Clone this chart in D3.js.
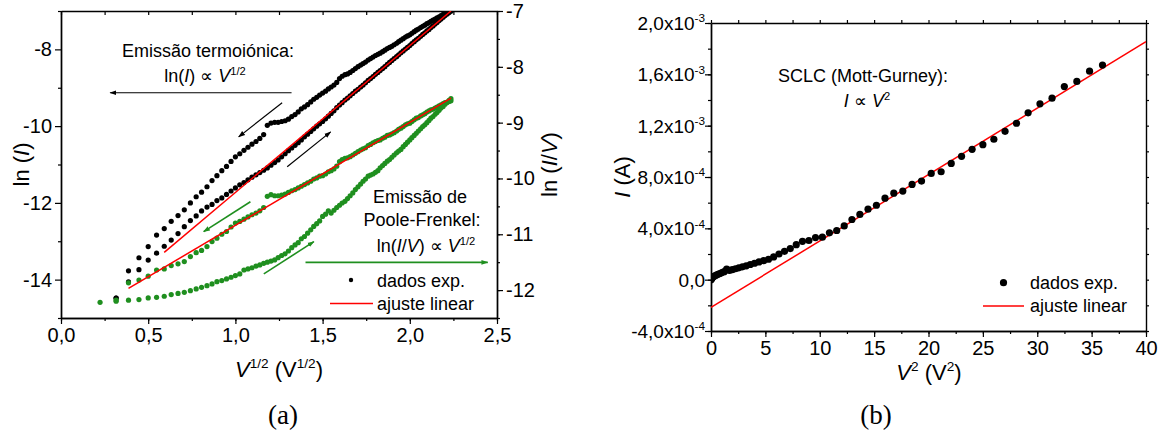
<!DOCTYPE html>
<html>
<head>
<meta charset="utf-8">
<script src="https://cdn.jsdelivr.net/npm/d3@7"></script>
<style>
body { margin: 0; background: #fff; }
svg text { font-family: "Liberation Sans", Arial, sans-serif; fill: #000; }
</style>
</head>
<body>
<script>
// ---------- panel (a) data : x = V^1/2, black = ln(I), green = ln(I/V) ----------
var sqrtV = [0.224, 0.316, 0.387, 0.447, 0.5, 0.548, 0.592, 0.632, 0.671, 0.707,
	0.742, 0.775, 0.806, 0.837, 0.866, 0.894, 0.922, 0.949, 0.975, 1.0,
	1.025, 1.049, 1.072, 1.095, 1.118, 1.14, 1.162, 1.183, 1.204, 1.225,
	1.245, 1.265, 1.285, 1.304, 1.323, 1.342, 1.36, 1.378, 1.396, 1.414,
	1.432, 1.449, 1.466, 1.483, 1.5, 1.517, 1.533, 1.549, 1.565, 1.581,
	1.597, 1.612, 1.628, 1.643, 1.658, 1.673, 1.688, 1.703, 1.718, 1.732,
	1.746, 1.761, 1.775, 1.789, 1.803, 1.817, 1.83, 1.844, 1.857, 1.871,
	1.884, 1.897, 1.91, 1.924, 1.936, 1.949, 1.962, 1.975, 1.987, 2.0,
	2.012, 2.025, 2.037, 2.049, 2.062, 2.074, 2.086, 2.098, 2.11, 2.121,
	2.133, 2.145, 2.156, 2.168, 2.179, 2.191, 2.202, 2.214, 2.225, 2.236];

// ln(I), return sweep (upper branch)
var lnIUp = [null, -14.48, -13.77, -13.43, -13.14, -12.84, -12.67, -12.48, -12.33, -12.18,
	-12.00, -11.84, -11.72, -11.58, -11.42, -11.29, -11.16, -11.05, -10.92, -10.80,
	-10.72, -10.63, -10.55, -10.47, -10.40, -10.32, -10.22, -9.98, -9.92, -9.90,
	-9.90, -9.88, -9.86, -9.82, -9.75, -9.70, -9.63, -9.55, -9.50, -9.44,
	-9.37, -9.30, -9.25, -9.19, -9.14, -9.09, -9.03, -8.98, -8.93, -8.86,
	-8.76, -8.70, -8.66, -8.64, -8.60, -8.55, -8.50, -8.45, -8.41, -8.37,
	-8.33, -8.28, -8.24, -8.20, -8.16, -8.13, -8.10, -8.06, -8.02, -7.98,
	-7.95, -7.92, -7.88, -7.84, -7.80, -7.76, -7.72, -7.68, -7.65, -7.62,
	-7.58, -7.54, -7.50, -7.47, -7.43, -7.40, -7.37, -7.33, -7.30, -7.27,
	-7.24, -7.21, -7.18, -7.15, -7.12, -7.09, -7.06, -7.04, -7.02, -7.00];

// ln(I), forward sweep (lower branch)
var lnILow = [null, -14.48, -14.06, -13.74, -13.49, -13.31, -13.13, -12.97, -12.80, -12.62,
	-12.46, -12.34, -12.21, -12.11, -12.04, -11.94, -11.87, -11.78, -11.69, -11.61,
	-11.53, -11.47, -11.40, -11.33, -11.27, -11.21, -11.15, -11.09, -11.02, -10.95,
	-10.88, -10.80, -10.72, -10.64, -10.57, -10.50, -10.43, -10.36, -10.28, -10.21,
	-10.14, -10.07, -10.00, -9.94, -9.88, -9.81, -9.74, -9.67, -9.60, -9.52,
	-9.45, -9.39, -9.32, -9.27, -9.21, -9.15, -9.09, -9.04, -8.98, -8.93,
	-8.87, -8.81, -8.76, -8.71, -8.65, -8.60, -8.55, -8.50, -8.45, -8.39,
	-8.34, -8.29, -8.24, -8.19, -8.14, -8.09, -8.04, -7.99, -7.95, -7.90,
	-7.85, -7.80, -7.75, -7.71, -7.66, -7.61, -7.57, -7.52, -7.48, -7.43,
	-7.39, -7.34, -7.30, -7.25, -7.21, -7.16, -7.12, -7.08, -7.04, -7.00];

// ln(I/V), return sweep (upper green branch)
var lnIVUp = [null, -12.18, -11.87, -11.82, -11.75, -11.64, -11.62, -11.56, -11.53, -11.49,
	-11.40, -11.33, -11.29, -11.22, -11.13, -11.07, -11.00, -10.95, -10.87, -10.80,
	-10.77, -10.73, -10.69, -10.65, -10.62, -10.58, -10.52, -10.32, -10.29, -10.31,
	-10.31, -10.30, -10.28, -10.25, -10.22, -10.20, -10.17, -10.14, -10.11, -10.08,
	-10.05, -10.01, -9.99, -9.96, -9.95, -9.92, -9.88, -9.86, -9.83, -9.78,
	-9.70, -9.66, -9.64, -9.63, -9.61, -9.58, -9.55, -9.52, -9.49, -9.47,
	-9.45, -9.41, -9.39, -9.36, -9.34, -9.32, -9.31, -9.28, -9.26, -9.23,
	-9.22, -9.20, -9.18, -9.15, -9.12, -9.10, -9.07, -9.04, -9.02, -9.01,
	-8.98, -8.95, -8.92, -8.91, -8.88, -8.86, -8.84, -8.81, -8.79, -8.77,
	-8.76, -8.74, -8.72, -8.70, -8.68, -8.66, -8.64, -8.63, -8.62, -8.61];

// ln(I/V), forward sweep (lower green branch)
var lnIVLow = [-12.22, -12.20, -12.18, -12.17, -12.14, -12.13, -12.11, -12.08, -12.06, -12.04,
	-12.01, -11.98, -11.95, -11.92, -11.89, -11.85, -11.83, -11.80, -11.77, -11.74,
	-11.71, -11.64, -11.62, -11.60, -11.57, -11.55, -11.52, -11.50, -11.48, -11.46,
	-11.42, -11.38, -11.35, -11.30, -11.24, -11.19, -11.15, -11.08, -11.04, -10.98,
	-10.92, -10.86, -10.81, -10.76, -10.68, -10.64, -10.58, -10.62, -10.57, -10.52,
	-10.48, -10.44, -10.41, -10.36, -10.31, -10.26, -10.20, -10.15, -10.10, -10.05,
	-10.01, -9.96, -9.94, -9.92, -9.89, -9.86, -9.81, -9.77, -9.73, -9.69,
	-9.66, -9.62, -9.58, -9.54, -9.51, -9.48, -9.43, -9.39, -9.35, -9.31,
	-9.27, -9.23, -9.19, -9.15, -9.11, -9.07, -9.04, -9.00, -8.96, -8.92,
	-8.89, -8.85, -8.82, -8.78, -8.74, -8.71, -8.67, -8.64, -8.60, -8.57];

// linear fits (end points)
var fitLnIX = [0.592, 2.236], fitLnIY = [-13.29, -7.0];
var fitLnIVX = [0.387, 2.236], fitLnIVY = [-11.97, -8.56];

// ---------- panel (b) data : x = V^2, y = I (A) ----------
var vSq = [0, 0.01, 0.04, 0.09, 0.16, 0.25, 0.36, 0.49, 0.64, 0.81,
	1, 1.21, 1.44, 1.69, 1.96, 2.25, 2.56, 2.89, 3.24, 3.61,
	4, 4.41, 4.84, 5.29, 5.76, 6.25, 6.76, 7.29, 7.84, 8.41,
	9, 9.61, 10.24, 10.89, 11.56, 12.25, 12.96, 13.69, 14.44, 15.21,
	16, 16.81, 17.64, 18.49, 19.36, 20.25, 21.16, 22.09, 23.04, 24.01,
	25, 26.01, 27.04, 28.09, 29.16, 30.25, 31.36, 32.49, 33.64, 34.81, 36];
var current = [0.0, 0.04e-4, 0.08e-4, 0.13e-4, 0.18e-4, 0.24e-4, 0.30e-4, 0.36e-4, 0.42e-4, 0.48e-4,
	0.55e-4, 0.62e-4, 0.82e-4, 0.72e-4, 0.78e-4, 0.85e-4, 0.92e-4, 1.00e-4, 1.08e-4, 1.18e-4,
	1.28e-4, 1.38e-4, 1.48e-4, 1.59e-4, 1.77e-4, 2.00e-4, 2.21e-4, 2.42e-4, 2.73e-4, 2.99e-4,
	3.05e-4, 3.28e-4, 3.31e-4, 3.65e-4, 3.83e-4, 4.19e-4, 4.69e-4, 5.08e-4, 5.49e-4, 5.80e-4,
	6.35e-4, 6.74e-4, 6.90e-4, 7.42e-4, 7.68e-4, 8.28e-4, 8.41e-4, 9.06e-4, 9.61e-4, 10.16e-4,
	10.52e-4, 10.94e-4, 11.56e-4, 12.19e-4, 13.00e-4, 13.70e-4, 14.14e-4, 15.05e-4, 15.45e-4, 16.25e-4, 16.72e-4];
var fitBX = [0, 40], fitBY = [-2.16e-4, 1.854e-3];

// tick labels
var xTicksA = [0, 0.5, 1.0, 1.5, 2.0, 2.5];
var xLabelsA = ["0,0", "0,5", "1,0", "1,5", "2,0", "2,5"];
var yTicksAL = [-14, -12, -10, -8];
var yTicksAR = [-12, -11, -10, -9, -8, -7];
var xTicksB = [0, 5, 10, 15, 20, 25, 30, 35, 40];
var yTicksB = [-4e-4, 0, 4e-4, 8e-4, 1.2e-3, 1.6e-3, 2.0e-3];
var yMantB = ["-4,0", "0,0", "4,0", "8,0", "1,2", "1,6", "2,0"];
var yExpB = ["-4", "", "-4", "-4", "-3", "-3", "-3"];

var green = "#1f8f1f";
var red = "#ff0000";

var svg = d3.select("body").append("svg")
	.attr("width", 1162)
	.attr("height", 434);

// rich text with italics / superscripts
function rich(parent, x, y, parts, size, anchor) {
	var t = parent.append("text")
		.attr("x", x).attr("y", y)
		.attr("font-size", size)
		.attr("text-anchor", anchor || "start");
	var shift = 0;
	parts.forEach(function(p) {
		var s = p.sup ? -size * 0.4 : 0;
		var ts = t.append("tspan").text(p.t).attr("dy", s - shift);
		if (p.sup) ts.attr("font-size", size * 0.62);
		if (p.it) ts.attr("font-style", "italic");
		shift = s;
	});
	return t;
}

function styleAxis(g) {
	g.selectAll("path").attr("stroke", "#000").attr("stroke-width", 1.4);
	g.selectAll("line").attr("stroke", "#000").attr("stroke-width", 1.2);
	g.selectAll("text").attr("font-size", 20);
}

function arrowHead(id, color) {
	svg.append("defs").append("marker")
		.attr("id", id)
		.attr("viewBox", "0 0 10 10")
		.attr("refX", 9).attr("refY", 5)
		.attr("markerWidth", 7).attr("markerHeight", 7)
		.attr("markerUnits", "userSpaceOnUse")
		.attr("orient", "auto")
		.append("path").attr("d", "M0,1.5 L10,5 L0,8.5 Z").attr("fill", color);
}
arrowHead("arrBlack", "#000");
arrowHead("arrGreen", green);

// ================= PANEL (a) =================
var A = {left: 61, right: 497, top: 11, bottom: 318};
var xA = d3.scaleLinear().domain([0, 2.5]).range([A.left, A.right]);
var yAL = d3.scaleLinear().domain([-15, -7]).range([A.bottom, A.top]);
var yAR = d3.scaleLinear().domain([-12.5, -7]).range([A.bottom, A.top]);

svg.append("clipPath").attr("id", "clipA").append("rect")
	.attr("x", A.left).attr("y", A.top)
	.attr("width", A.right - A.left).attr("height", A.bottom - A.top);

var gA = svg.append("g");
var fmtDash = function(d) { return String(d); };

// minor + major ticks
gA.append("g").attr("transform", "translate(0," + A.bottom + ")")
	.call(d3.axisBottom(xA).tickValues(d3.range(0, 2.51, 0.25)).tickSize(3).tickSizeOuter(0).tickFormat(""))
	.call(styleAxis);
gA.append("g").attr("transform", "translate(0," + A.bottom + ")")
	.call(d3.axisBottom(xA).tickValues(xTicksA).tickSize(6).tickSizeOuter(0).tickPadding(4)
		.tickFormat(function(d, i) { return xLabelsA[i]; }))
	.call(styleAxis);
gA.append("g").attr("transform", "translate(0," + A.top + ")")
	.call(d3.axisTop(xA).tickValues(d3.range(0, 2.51, 0.25)).tickSize(-4).tickSizeOuter(0).tickFormat(""))
	.call(styleAxis);
gA.append("g").attr("transform", "translate(" + A.left + ",0)")
	.call(d3.axisLeft(yAL).tickValues([-15, -13, -11, -9, -7]).tickSize(3).tickSizeOuter(0).tickFormat(""))
	.call(styleAxis);
gA.append("g").attr("transform", "translate(" + A.left + ",0)")
	.call(d3.axisLeft(yAL).tickValues(yTicksAL).tickSize(6).tickSizeOuter(0).tickPadding(3).tickFormat(fmtDash))
	.call(styleAxis);
gA.append("g").attr("transform", "translate(" + A.right + ",0)")
	.call(d3.axisRight(yAR).tickValues(d3.range(-12.5, -6.9, 0.5)).tickSize(3).tickSizeOuter(0).tickFormat(""))
	.call(styleAxis);
gA.append("g").attr("transform", "translate(" + A.right + ",0)")
	.call(d3.axisRight(yAR).tickValues(yTicksAR).tickSize(6).tickSizeOuter(0).tickPadding(3).tickFormat(fmtDash))
	.call(styleAxis);

var dotsA = gA.append("g").attr("clip-path", "url(#clipA)");
function drawSeries(yArr, scale, color, r) {
	dotsA.append("g").selectAll("circle")
		.data(sqrtV.map(function(x, i) { return [x, yArr[i]]; }).filter(function(d) { return d[1] !== null; }))
		.enter().append("circle")
		.attr("cx", function(d) { return xA(d[0]); })
		.attr("cy", function(d) { return scale(d[1]); })
		.attr("r", r)
		.attr("fill", color);
}
drawSeries(lnIUp, yAL, "#000", 2.6);
drawSeries(lnILow, yAL, "#000", 2.6);
drawSeries(lnIVUp, yAR, green, 2.6);
drawSeries(lnIVLow, yAR, green, 2.6);

dotsA.append("line")
	.attr("x1", xA(fitLnIX[0])).attr("y1", yAL(fitLnIY[0]))
	.attr("x2", xA(fitLnIX[1])).attr("y2", yAL(fitLnIY[1]))
	.attr("stroke", red).attr("stroke-width", 1.5);
dotsA.append("line")
	.attr("x1", xA(fitLnIVX[0])).attr("y1", yAR(fitLnIVY[0]))
	.attr("x2", xA(fitLnIVX[1])).attr("y2", yAR(fitLnIVY[1]))
	.attr("stroke", red).attr("stroke-width", 1.5);

// arrows (x in V^1/2, y in left-axis units)
var arrowsA = [
	{from: [1.322, -9.13], to: [0.282, -9.13], c: "#000"},
	{from: [1.268, -9.39], to: [1.019, -10.28], c: "#000"},
	{from: [1.297, -11.06], to: [1.546, -10.15], c: "#000"},
	{from: [1.086, -11.97], to: [0.818, -12.75], c: green},
	{from: [1.163, -13.85], to: [1.45, -13.01], c: green},
	{from: [1.402, -13.55], to: [2.447, -13.55], c: green}
];
arrowsA.forEach(function(a) {
	gA.append("line")
		.attr("x1", xA(a.from[0])).attr("y1", yAL(a.from[1]))
		.attr("x2", xA(a.to[0])).attr("y2", yAL(a.to[1]))
		.attr("stroke", a.c).attr("stroke-width", a.c === green ? 1.6 : 1.2)
		.attr("marker-end", a.c === green ? "url(#arrGreen)" : "url(#arrBlack)");
});

// annotations (a)
gA.append("text").attr("x", 208).attr("y", 57).attr("font-size", 18).attr("text-anchor", "middle")
	.text("Emissão termoiónica:");
rich(gA, 205, 82, [{t: "ln("}, {t: "I", it: true}, {t: ") \u221D "}, {t: "V", it: true}, {t: "1/2", sup: true}], 18, "middle");
gA.append("text").attr("x", 420).attr("y", 203).attr("font-size", 18).attr("text-anchor", "middle")
	.text("Emissão de");
gA.append("text").attr("x", 422).attr("y", 226).attr("font-size", 18).attr("text-anchor", "middle")
	.text("Poole-Frenkel:");
rich(gA, 426, 252, [{t: "ln("}, {t: "I", it: true}, {t: "/"}, {t: "V", it: true}, {t: ") \u221D "}, {t: "V", it: true}, {t: "1/2", sup: true}], 18, "middle");

// legend (a)
gA.append("circle").attr("cx", 351).attr("cy", 280).attr("r", 2.2).attr("fill", "#000");
gA.append("text").attr("x", 377).attr("y", 287).attr("font-size", 18).text("dados exp.");
gA.append("line").attr("x1", 330).attr("x2", 373).attr("y1", 303.5).attr("y2", 303.5)
	.attr("stroke", red).attr("stroke-width", 1.5);
gA.append("text").attr("x", 377).attr("y", 310).attr("font-size", 18).text("ajuste linear");

// axis titles (a)
rich(gA, 279, 377, [{t: "V", it: true}, {t: "1/2", sup: true}, {t: " (V"}, {t: "1/2", sup: true}, {t: ")"}], 22, "middle");
rich(gA.append("g").attr("transform", "translate(29,164.5) rotate(-90)"), 0, 0,
	[{t: "ln ("}, {t: "I", it: true}, {t: ")"}], 22, "middle");
rich(gA.append("g").attr("transform", "translate(557,164.5) rotate(-90)"), 0, 0,
	[{t: "ln ("}, {t: "I", it: true}, {t: "/"}, {t: "V", it: true}, {t: ")"}], 22, "middle");
gA.append("text").attr("x", 283).attr("y", 424).attr("font-size", 27).attr("text-anchor", "middle")
	.style("font-family", "Liberation Serif, DejaVu Serif, serif").text("(a)");

// ================= PANEL (b) =================
var B = {left: 711, right: 1146, top: 23, bottom: 331};
var xB = d3.scaleLinear().domain([0, 40]).range([B.left, B.right]);
var yB = d3.scaleLinear().domain([-4e-4, 2e-3]).range([B.bottom, B.top]);

svg.append("clipPath").attr("id", "clipB").append("rect")
	.attr("x", B.left).attr("y", B.top)
	.attr("width", B.right - B.left).attr("height", B.bottom - B.top);

var gB = svg.append("g");
gB.append("g").attr("transform", "translate(0," + B.bottom + ")")
	.call(d3.axisBottom(xB).tickValues(d3.range(0, 40.1, 2.5)).tickSize(3).tickSizeOuter(0).tickFormat(""))
	.call(styleAxis);
gB.append("g").attr("transform", "translate(0," + B.bottom + ")")
	.call(d3.axisBottom(xB).tickValues(xTicksB).tickSize(6).tickSizeOuter(0).tickPadding(4).tickFormat(d3.format("d")))
	.call(styleAxis);
gB.append("g").attr("transform", "translate(0," + B.top + ")")
	.call(d3.axisTop(xB).tickValues(d3.range(0, 40.1, 2.5)).tickSize(3).tickSizeOuter(0).tickFormat(""))
	.call(styleAxis);
gB.append("g").attr("transform", "translate(" + B.left + ",0)")
	.call(d3.axisLeft(yB).tickValues(d3.range(-4e-4, 2.01e-3, 2e-4)).tickSize(3).tickSizeOuter(0).tickFormat(""))
	.call(styleAxis);
gB.append("g").attr("transform", "translate(" + B.left + ",0)")
	.call(d3.axisLeft(yB).tickValues(yTicksB).tickSize(6).tickSizeOuter(0).tickPadding(3).tickFormat(""))
	.call(styleAxis);
gB.append("g").attr("transform", "translate(" + B.right + ",0)")
	.call(d3.axisRight(yB).tickValues(d3.range(-4e-4, 2.01e-3, 2e-4)).tickSize(3).tickSizeOuter(0).tickFormat(""))
	.call(styleAxis);

yTicksB.forEach(function(v, i) {
	var parts = [{t: yMantB[i]}];
	if (yExpB[i] !== "") {
		parts.push({t: "x10"});
		parts.push({t: yExpB[i], sup: true});
	}
	rich(gB, B.left - 6, yB(v) + 7, parts, 19, "end");
});

var dotsB = gB.append("g").attr("clip-path", "url(#clipB)");
dotsB.append("line")
	.attr("x1", xB(fitBX[0])).attr("y1", yB(fitBY[0]))
	.attr("x2", xB(fitBX[1])).attr("y2", yB(fitBY[1]))
	.attr("stroke", red).attr("stroke-width", 1.5);
dotsB.selectAll("circle")
	.data(vSq.map(function(x, i) { return [x, current[i]]; }))
	.enter().append("circle")
	.attr("cx", function(d) { return xB(d[0]); })
	.attr("cy", function(d) { return yB(d[1]); })
	.attr("r", 3.6)
	.attr("fill", "#000");

gB.append("text").attr("x", 863).attr("y", 82).attr("font-size", 18).attr("text-anchor", "middle")
	.text("SCLC (Mott-Gurney):");
rich(gB, 867, 107, [{t: "I", it: true}, {t: " \u221D "}, {t: "V", it: true}, {t: "2", sup: true}], 18, "middle");

// legend (b)
gB.append("circle").attr("cx", 1003.5).attr("cy", 282.7).attr("r", 3.6).attr("fill", "#000");
gB.append("text").attr("x", 1030).attr("y", 289).attr("font-size", 18).text("dados exp.");
gB.append("line").attr("x1", 983).attr("x2", 1024).attr("y1", 306).attr("y2", 306)
	.attr("stroke", red).attr("stroke-width", 1.5);
gB.append("text").attr("x", 1030).attr("y", 312).attr("font-size", 18).text("ajuste linear");

rich(gB, 929, 380, [{t: "V", it: true}, {t: "2", sup: true}, {t: " (V"}, {t: "2", sup: true}, {t: ")"}], 22, "middle");
rich(gB.append("g").attr("transform", "translate(630,177) rotate(-90)"), 0, 0,
	[{t: "I", it: true}, {t: " (A)"}], 22, "middle");
gB.append("text").attr("x", 876).attr("y", 424).attr("font-size", 27).attr("text-anchor", "middle")
	.style("font-family", "Liberation Serif, DejaVu Serif, serif").text("(b)");
</script>
</body>
</html>
